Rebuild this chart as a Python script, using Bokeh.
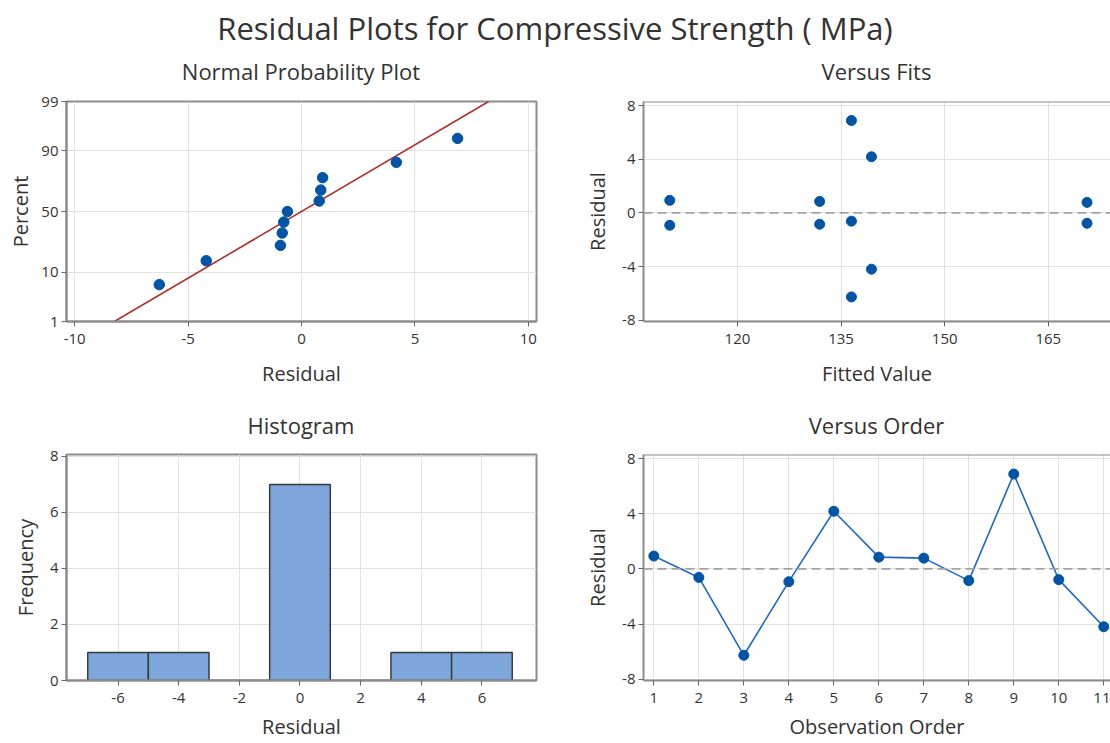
from statistics import NormalDist
from bokeh.plotting import figure
from bokeh.layouts import column, row
from bokeh.models import Div, FixedTicker, Span, Range1d
from bokeh.embed import file_html
from bokeh.resources import INLINE

# ---------------- data ----------------
obs_order = [1, 2, 3, 4, 5, 6, 7, 8, 9, 10, 11]
residuals = [0.93, -0.62, -6.27, -0.93, 4.18, 0.85, 0.78, -0.85, 6.88, -0.78, -4.20]
fitted = [110.2, 136.5, 136.5, 110.2, 139.4, 131.9, 170.6, 131.9, 136.5, 170.6, 139.4]

# normal probability plot: percent positions of the sorted residuals
normal_pct = [6.1, 14.9, 23.7, 32.5, 41.2, 50.0, 58.8, 67.5, 76.3, 85.1, 93.9]
fit_line_x = [-8.25, 8.25]
fit_line_pct = [1, 99]
pct_ticks = [1, 10, 50, 90, 99]

# histogram bins
hist_left = [-7, -5, -3, -1, 1, 3, 5]
hist_right = [-5, -3, -1, 1, 3, 5, 7]
hist_count = [1, 1, 0, 7, 0, 1, 1]

FONT = "Open Sans"
TXT = "#333333"
GRID = "#e2e2e2"
FRAME = "#8c8c8c"
DOT = "#0054A6"


def zval(p):
    return round(NormalDist().inv_cdf(p / 100.0), 6)


def style(p, xlabel, ylabel, xticks, yticks, xover=None, yover=None,
          outline=True, xlab_standoff=13, ylab_standoff=8):
    p.title.text = ""
    p.outline_line_color = FRAME if outline else None
    p.outline_line_width = 2
    p.background_fill_color = "white"
    p.border_fill_color = "white"
    for ax, lab, ticks, over in ((p.xaxis[0], xlabel, xticks, xover), (p.yaxis[0], ylabel, yticks, yover)):
        ax.ticker = FixedTicker(ticks=ticks)
        if over:
            ax.major_label_overrides = over
        ax.axis_label = lab
        ax.axis_label_text_font = FONT
        ax.axis_label_text_font_size = "20px"
        ax.axis_label_text_font_style = "normal"
        ax.axis_label_text_color = TXT
        ax.major_label_text_font = FONT
        ax.major_label_text_font_size = "15px"
        ax.major_label_text_color = TXT
        ax.axis_line_color = FRAME
        ax.axis_line_width = 2
        ax.major_tick_line_color = "#666666"
        ax.major_tick_out = 5
        ax.major_tick_in = 0
        ax.minor_tick_line_color = None
    p.xaxis.major_label_standoff = 7
    p.xaxis.axis_label_standoff = xlab_standoff
    p.yaxis.major_label_standoff = 3
    p.yaxis.axis_label_standoff = ylab_standoff
    p.xgrid.grid_line_color = GRID
    p.ygrid.grid_line_color = GRID
    p.xgrid.grid_line_width = 1
    p.ygrid.grid_line_width = 1
    if not outline:
        p.add_layout(Span(location=p.y_range.end, dimension="width",
                          line_color=FRAME, line_width=2))


def panel_title(text, pad_left, right_edge, height, pad_top):
    html = ('<div style="box-sizing:border-box;width:%dpx;padding-left:%dpx;'
            'padding-top:%dpx;text-align:center;'
            'font-family:\'Open Sans\';font-size:22px;color:#333333;'
            'line-height:%dpx;height:%dpx;white-space:nowrap;">%s</div>'
            % (right_edge, pad_left, pad_top, height - pad_top, height, text))
    return Div(text=html, width=555, height=height, margin=(0, 0, 0, 0))


LW, RW = 555, 555
TOP_H, BOT_H = 314, 302

# ---------------- Normal probability plot ----------------
p1 = figure(width=LW, height=TOP_H, x_range=Range1d(-10.36, 10.36),
            y_range=Range1d(zval(1), zval(99)), output_backend="svg",
            toolbar_location=None, min_border_left=66, min_border_right=19,
            min_border_top=15, min_border_bottom=79)
style(p1, "Residual", "Percent",
      [-10, -5, 0, 5, 10], [zval(v) for v in pct_ticks],
      xover={-10: "-10", -5: "-5"}, yover={zval(v): str(v) for v in pct_ticks},
      ylab_standoff=4)
p1.line(fit_line_x, [zval(v) for v in fit_line_pct],
        line_color="#B22A2A", line_width=1.6)
p1.scatter(sorted(residuals), [zval(v) for v in normal_pct], size=10.5,
           fill_color=DOT, line_color=DOT)

# ---------------- Versus fits ----------------
p2 = figure(width=RW, height=TOP_H, x_range=Range1d(106.4, 174.0),
            y_range=Range1d(-8.1, 8.3), output_backend="svg",
            toolbar_location=None, min_border_left=88, min_border_right=0,
            min_border_top=15, min_border_bottom=79)
style(p2, "Fitted Value", "Residual",
      [120, 135, 150, 165], [-8, -4, 0, 4, 8], yover={-8: "-8", -4: "-4"},
      outline=False)
p2.add_layout(Span(location=0, dimension="width", line_color="#a3a3a3",
                   line_width=1.6, line_dash="9 5"))
p2.scatter(fitted, residuals, size=10, fill_color=DOT, line_color=DOT)

# ---------------- Histogram ----------------
p3 = figure(width=LW, height=BOT_H, x_range=Range1d(-7.7, 7.8),
            y_range=Range1d(0, 8.07), output_backend="svg",
            toolbar_location=None, min_border_left=66, min_border_right=19,
            min_border_top=14, min_border_bottom=62)
style(p3, "Residual", "Frequency",
      [-6, -4, -2, 0, 2, 4, 6], [0, 2, 4, 6, 8],
      xover={-6: "-6", -4: "-4", -2: "-2"}, xlab_standoff=7)
p3.quad(left=hist_left, right=hist_right, bottom=0, top=hist_count,
        fill_color="#7DA7DA", line_color="#3a3a3a", line_width=1.5)

# ---------------- Versus order ----------------
p4 = figure(width=RW, height=BOT_H, x_range=Range1d(0.77, 11.15),
            y_range=Range1d(-8.1, 8.3), output_backend="svg",
            toolbar_location=None, min_border_left=88, min_border_right=0,
            min_border_top=14, min_border_bottom=62)
style(p4, "Observation Order", "Residual",
      obs_order, [-8, -4, 0, 4, 8], yover={-8: "-8", -4: "-4"},
      outline=False, xlab_standoff=7)
p4.add_layout(Span(location=0, dimension="width", line_color="#a3a3a3",
                   line_width=1.6, line_dash="9 5"))
p4.line(obs_order, residuals, line_color="#2068C4", line_width=1.6)
p4.scatter(obs_order, residuals, size=10, fill_color=DOT, line_color=DOT)

title = Div(text='<div style="width:1110px;text-align:center;font-family:\'Open Sans\';'
                 'font-size:31px;color:#333333;line-height:56px;height:56px;white-space:nowrap;">'
                 'Residual Plots for Compressive Strength ( MPa)</div>',
            width=1110, height=56, margin=(0, 0, 0, 0))

layout = column(
    title,
    row(panel_title("Normal Probability Plot", 66, 536, 30, 0),
        panel_title("Versus Fits", 88, 555, 30, 0)),
    row(p1, p2),
    row(panel_title("Histogram", 66, 536, 40, 10),
        panel_title("Versus Order", 88, 555, 40, 10)),
    row(p3, p4),
)
open("out.html", "w").write(file_html(layout, INLINE))
